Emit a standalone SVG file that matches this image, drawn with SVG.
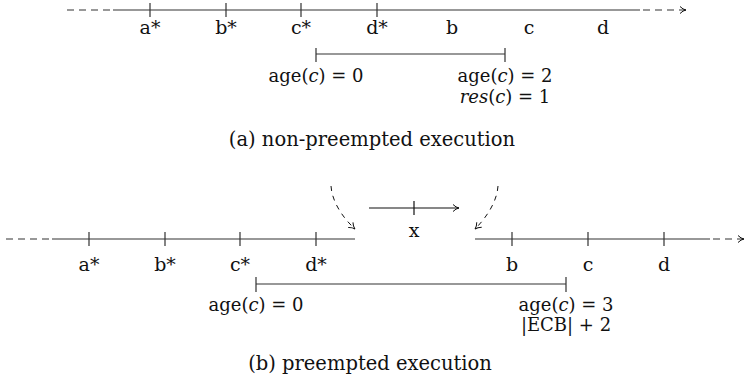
<svg xmlns="http://www.w3.org/2000/svg" width="747" height="387" viewBox="0 0 747 387">
<style>
.ln{stroke:#333;stroke-width:1.2;fill:none}
.ds{stroke:#333;stroke-width:1.2;fill:none;stroke-dasharray:7,5}
.cv{stroke:#111;stroke-width:1;fill:none;stroke-dasharray:5,5}
</style>
<defs>
<marker id="ah" markerWidth="10" markerHeight="10" refX="7" refY="4" orient="auto" markerUnits="userSpaceOnUse">
<path d="M1,0.5 Q4,3.5 7,4 Q4,4.5 1,7.5" fill="none" stroke="#111" stroke-width="1"/>
</marker>
</defs>
<rect width="747" height="387" fill="#fff"/>
<g id="connectors">
<path class="ds" d="M67,10 H113"/>
<path class="ln" d="M113,10 H640"/>
<path class="ds" d="M643,10 H686" marker-end="url(#ah)"/>
<path class="ln" d="M150,3 V17 M226,3 V17 M301,3 V17 M377,3 V17"/>
<path class="ln" d="M316,54 H505 M316,48 V62 M505,48 V62"/>
<path class="ds" d="M6,239 H52"/>
<path class="ln" d="M52,239 H355"/>
<path class="ln" d="M89,232 V246 M165,232 V246 M240,232 V246 M316,232 V246"/>
<path class="ln" d="M475,239 H710"/>
<path class="ds" d="M713,239 H744" marker-end="url(#ah)"/>
<path class="ln" d="M512,232 V246 M588,232 V246 M664,232 V246"/>
<path class="ln" d="M369,208 H459" marker-end="url(#ah)" style="stroke:#111"/>
<path class="ln" d="M414,201 V215" style="stroke:#111"/>
<path class="cv" d="M331,186 C332,202 343,218 355,229" marker-end="url(#ah)"/>
<path class="cv" d="M498,186 C497,202 486,218 475,229" marker-end="url(#ah)"/>
<path class="ln" d="M256,284 H566 M256,277 V292 M566,277 V292"/>
</g>
<g id="top-labels" font-family="DejaVu Serif, Liberation Serif, serif" font-size="19" fill="#111" text-anchor="middle">
<text x="150" y="34">a*</text>
<text x="226" y="34">b*</text>
<text x="301" y="34">c*</text>
<text x="377" y="34">d*</text>
<text x="452" y="34">b</text>
<text x="529" y="34">c</text>
<text x="603" y="34">d</text>
</g>
<g id="top-bracket-labels" font-family="DejaVu Serif, Liberation Serif, serif" font-size="18" fill="#111" text-anchor="middle">
<text x="316" y="82">age(<tspan font-style="italic">c</tspan>) = 0</text>
<text x="505" y="82">age(<tspan font-style="italic">c</tspan>) = 2</text>
<text x="505" y="103"><tspan font-style="italic">res</tspan>(<tspan font-style="italic">c</tspan>) = 1</text>
</g>
<g id="caption-a" font-family="DejaVu Serif, Liberation Serif, serif" font-size="19.5" fill="#111" text-anchor="middle"><text x="372" y="146">(a) non-preempted execution</text></g>
<g id="bottom-labels" font-family="DejaVu Serif, Liberation Serif, serif" font-size="19" fill="#111" text-anchor="middle">
<text x="89" y="271">a*</text>
<text x="165" y="271">b*</text>
<text x="240" y="271">c*</text>
<text x="316" y="271">d*</text>
<text x="414" y="237">x</text>
<text x="512" y="271">b</text>
<text x="588" y="271">c</text>
<text x="664" y="271">d</text>
</g>
<g id="bottom-bracket-labels" font-family="DejaVu Serif, Liberation Serif, serif" font-size="18" fill="#111" text-anchor="middle">
<text x="256" y="311">age(<tspan font-style="italic">c</tspan>) = 0</text>
<text x="566" y="311">age(<tspan font-style="italic">c</tspan>) = 3</text>
<text x="566" y="331">|ECB| + 2</text>
</g>
<g id="caption-b" font-family="DejaVu Serif, Liberation Serif, serif" font-size="19.5" fill="#111" text-anchor="middle"><text x="370" y="370">(b) preempted execution</text></g>
</svg>
